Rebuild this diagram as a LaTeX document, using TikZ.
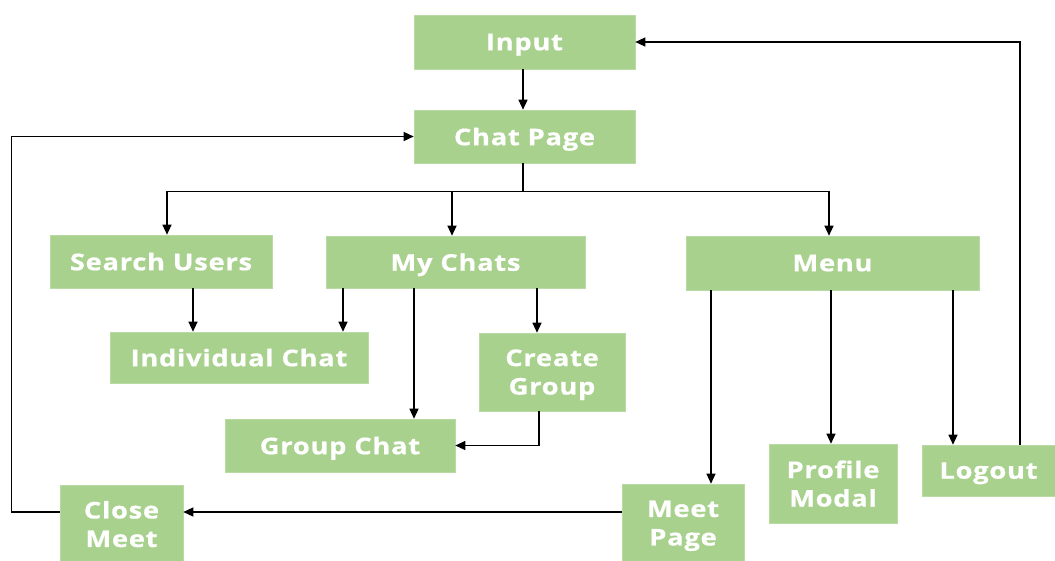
\documentclass[tikz,border=0pt]{standalone}
\usepackage{fontspec}
\setmainfont{Open Sans}[FakeStretch=1.19, LetterSpace=3, BoldFeatures={FakeBold=0.7}]
\usetikzlibrary{arrows.meta}
\definecolor{boxgreen}{HTML}{A9D18E}
\begin{document}
\begin{tikzpicture}[x=1pt,y=-1pt,
  box/.style={rectangle, fill=boxgreen, draw=boxgreen!80!white, line width=0.6pt,
    text=white, inner sep=0pt, align=center, text depth=0pt,
    font=\fontsize{23}{28.5}\selectfont\bfseries},
  link/.style={draw=black, line width=1.3pt},
  arr/.style={link, -{Triangle[length=10pt,width=9pt]}}]
\useasboundingbox (0,0) rectangle (1055,560);

% boxes
\node[box, minimum width=221pt, minimum height=54pt] (input)  at (524.5,42)   {Input};
\node[box, minimum width=221pt, minimum height=53pt] (chat)   at (524.5,136.5) {Chat Page};
\node[box, minimum width=222pt, minimum height=53pt] (search) at (161,261.5)  {Search Users};
\node[box, minimum width=259pt, minimum height=52pt] (mychats) at (455.5,262) {My Chats};
\node[box, minimum width=293pt, minimum height=54pt] (menu)   at (832.5,263)  {Menu};
\node[box, minimum width=258pt, minimum height=51pt] (indiv)  at (239,357.5)  {Individual Chat};
\node[box, minimum width=146pt, minimum height=78pt] (create) at (552,372)    {Create\\Group};
\node[box, minimum width=230pt, minimum height=53pt] (group)  at (340,445.5)  {Group Chat};
\node[box, minimum width=128pt, minimum height=79pt] (profile) at (833,483.5) {Profile\\Modal};
\node[box, minimum width=133pt, minimum height=51pt] (logout) at (988.5,470.5) {Logout};
\node[box, minimum width=122pt, minimum height=78pt] (meet)   at (683,523)    {Meet\\Page};
\node[box, minimum width=123pt, minimum height=78pt] (close)  at (121.5,524)  {Close\\Meet};

% main flow
\draw[arr] ([xshift=-1.5pt]input.south) -- ([xshift=-1.5pt]chat.north);

% fan-out from the chat page
\coordinate (bus) at ([xshift=-1.5pt,yshift=-28pt]chat.south);
\draw[link] ([xshift=-1.5pt]chat.south) -- (bus);
\draw[link] (bus) -- (bus -| 167,0) (bus) -- (bus -| 829,0);
\draw[arr] (bus -| 167,0) -- ([xshift=6pt]search.north);
\draw[arr] (bus -| 452,0) -- ([xshift=-3.5pt]mychats.north);
\draw[arr] (bus -| 829,0) -- ([xshift=-3.5pt]menu.north);

% search users and my chats
\draw[arr] ([xshift=32pt]search.south) -- ([xshift=32pt]search.south |- indiv.north);
\draw[arr] ([xshift=-112.5pt]mychats.south) -- ([xshift=-112.5pt]mychats.south |- indiv.north);
\draw[arr] ([xshift=-41.5pt]mychats.south) -- ([xshift=-41.5pt]mychats.south |- group.north);
\draw[arr] ([xshift=81.5pt]mychats.south) -- ([xshift=81.5pt]mychats.south |- create.north);
\draw[arr] ([xshift=-13pt]create.south) |- (group.east);

% menu
\draw[arr] ([xshift=-121.5pt]menu.south) -- ([xshift=-121.5pt]menu.south |- meet.north);
\draw[arr] ([xshift=-1.5pt]menu.south) -- ([xshift=-1.5pt]menu.south |- profile.north);
\draw[arr] ([xshift=120.5pt]menu.south) -- ([xshift=120.5pt]menu.south |- logout.north);

% loops back
\draw[arr] ([xshift=31.5pt]logout.north) |- (input.east);
\draw[arr] ([yshift=11pt]meet.west) -- ([yshift=11pt]meet.west -| close.east);
\draw[arr] ([yshift=12pt]close.west) -- ++(-48,0) |- (chat.west);
\end{tikzpicture}
\end{document}
